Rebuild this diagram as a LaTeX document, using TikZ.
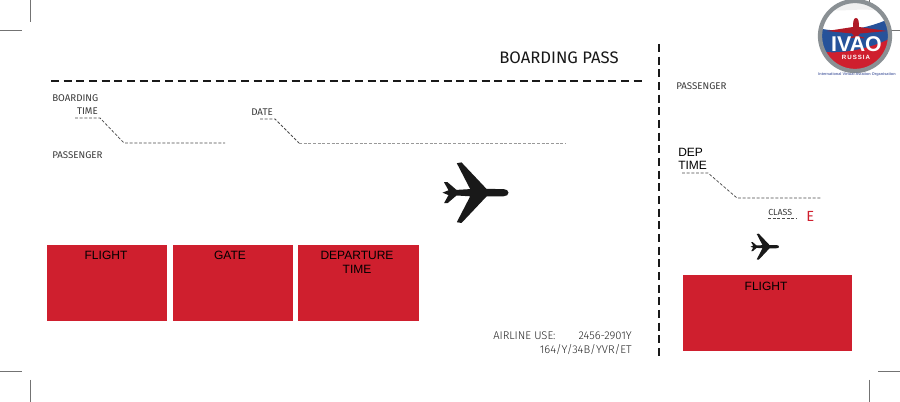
\documentclass[tikz,border=0pt]{standalone}
\usepackage{fontspec}
\setmainfont{Fira Sans}
\newfontfamily\lightf{Fira Sans Light}
\newfontfamily\arialf{Liberation Sans}
\newfontfamily\boldf{Liberation Sans Bold}
\definecolor{ticketred}{HTML}{CF1F2E}
\definecolor{inktext}{HTML}{3A3A3A}
\definecolor{logoblue}{HTML}{2A3F8F}
\definecolor{ringgrey}{HTML}{8A9094}
\tikzset{
  x=0.75pt,y=-0.75pt,
  crop/.style={draw=black!55,line width=0.6pt},
  mainrule/.style={draw=black!90,line width=0.8pt,dash pattern=on 6pt off 3.5pt},
  leader/.style={draw=black!70,line width=0.55pt,dash pattern=on 2.2pt off 1.3pt},
  redbox/.style={fill=ticketred,draw=none},
  lbl/.style={inner sep=0pt,font=\fontsize{7.3pt}{8pt}\selectfont,text=inktext,anchor=west},
  arl/.style={inner sep=0pt,font=\arialf\fontsize{9pt}{10pt}\selectfont,text=black},
  usetxt/.style={inner sep=0pt,font=\lightf\fontsize{8.4pt}{9pt}\selectfont,text=black!85},
}
\newcommand{\planeshape}{(39,0) .. controls (39,-2) and (37,-3.6) .. (34,-3.6) -- (17,-3.8) -- (-8,-30.3) -- (-12.7,-29.5) -- (0.7,-3.6) -- (-13,-2.8) -- (-22,-10.5) -- (-25.5,-10.5) -- (-21,-2.4) -- (-27,0) -- (-21,2.4) -- (-25.5,10.5) -- (-22,10.5) -- (-13,2.8) -- (0.7,3.6) -- (-12.7,29.5) -- (-8,30.3) -- (17,3.8) -- (34,3.6) .. controls (37,3.6) and (39,2) .. (39,0) -- cycle}
\begin{document}
\begin{tikzpicture}
\useasboundingbox[fill=white] (0,0) rectangle (900,402);
% crop marks
\draw[crop] (30,0) -- (30,22);
\draw[crop] (0,30) -- (22,30);
\draw[crop] (0,371) -- (22,371);
\draw[crop] (30,380) -- (30,402);
\draw[crop] (869,0) -- (869,22);
\draw[crop] (878,30) -- (900,30);
\draw[crop] (878,371) -- (900,371);
\draw[crop] (869,380) -- (869,402);
% main dashed rules
\coordinate (ruleL) at (51,81);
\coordinate (ruleR) at (643,81);
\coordinate (tearT) at (659,44);
\coordinate (tearB) at (659,358);
\draw[mainrule] (ruleL) -- (ruleR);
\draw[mainrule] (tearT) -- (tearB);
% titles
\node[inner sep=0pt,anchor=west,font=\fontsize{12.5pt}{14pt}\selectfont,text=black!90] (title) at (499,58) {BOARDING PASS};
% left labels
\node[lbl] (board) at (52,98.5) {BOARDING};
\node[lbl,anchor=east] (btime) at (98,111) {TIME};
\node[lbl] (pass1) at (52,155) {PASSENGER};
\node[lbl] (date) at (251,112) {DATE};
\node[lbl] (pass2) at (676,86) {PASSENGER};
\node[arl,anchor=west] (dep) at (678,152) {DEP};
\node[arl,anchor=west] (dtime) at (678,165) {TIME};
\node[lbl,font=\fontsize{6.6pt}{8pt}\selectfont] (class) at (768,212.5) {CLASS};
\node[inner sep=0pt,anchor=west,text=ticketred,font=\fontsize{11pt}{12pt}\selectfont] (classE) at (806,216) {E};
% leaders
\coordinate (b1) at (75,118); \coordinate (b2) at (100,118); \coordinate (b3) at (124,143); \coordinate (b4) at (225,143);
\draw[leader] (b1) -- (b2) -- (b3) -- (b4);
\coordinate (d1) at (260,119); \coordinate (d2) at (275,119); \coordinate (d3) at (299,143); \coordinate (d4) at (566,143);
\draw[leader] (d1) -- (d2) -- (d3);
\draw[leader,draw=black!40] (d3) -- (d4);
\coordinate (t1) at (682,173); \coordinate (t2) at (708,173); \coordinate (t3) at (737,198); \coordinate (t4) at (821,198);
\draw[leader] (t1) -- (t2) -- (t3) -- (t4);
\coordinate (c1) at (768,218); \coordinate (c2) at (797,218);
\draw[leader] (c1) -- (c2);
% red boxes
\path[redbox] (47,245) rectangle (167,321);
\path[redbox] (173,245) rectangle (293,321);
\path[redbox] (298,245) rectangle (419,321);
\path[redbox] (683,275) rectangle (852,351);
\node[arl] (f1) at (106,255) {FLIGHT};
\node[arl] (gate) at (230,255) {GATE};
\node[arl] (dp) at (357,255) {DEPARTURE};
\node[arl] (dpt) at (357,269) {TIME};
\node[arl] (f2) at (766,286) {FLIGHT};
% planes
\begin{scope}[shift={(469.5,192.7)}]
\fill[black!90] \planeshape;
\end{scope}
\begin{scope}[shift={(762.2,246.7)},scale=0.43]
\fill[black!90] \planeshape;
\end{scope}
% airline use
\node[usetxt,anchor=west] (air) at (493,336) {AIRLINE USE:};
\node[usetxt,anchor=east] (num) at (632,336) {2456-2901Y};
\node[usetxt,anchor=east] (code) at (632,350) {164/Y/34B/YVR/ET};
% logo
\begin{scope}
\clip (855,36) circle (35);
\fill[white] (815,0) rectangle (895,72);
\fill[black!6] (825,8) .. controls (840,14) and (860,6) .. (885,12) -- (885,0) -- (825,0) -- cycle;
\fill[logoblue!90!cyan] (815,27) .. controls (835,34) and (868,30) .. (895,16) -- (895,75) -- (815,75) -- cycle;
\fill[ticketred] (815,50) .. controls (835,56) and (870,50) .. (895,36) -- (895,75) -- (815,75) -- cycle;
\end{scope}
\draw[ringgrey,line width=3.2pt] (855,36) circle (35);
\fill[ticketred!85!black] (856,18) .. controls (858.5,18) and (859,22) .. (859,27) -- (887,31) -- (860,33.5) -- (858,36) -- (864,37.5) -- (864,38.5) -- (856,37.5) -- (848,38.5) -- (848,37.5) -- (854,36) -- (852,33.5) -- (827,31) -- (853,27) .. controls (853,22) and (853.5,18) .. (856,18) -- cycle;
\node[inner sep=0pt,text=white,font=\boldf\fontsize{16pt}{16pt}\selectfont] (ivao) at (856.5,44) {IVAO};
\node[inner sep=0pt,text=white,font=\boldf\fontsize{4.6pt}{5pt}\selectfont] (russia) at (856,57.5) {R\,U\,S\,S\,I\,A};
\node[inner sep=0pt,text=logoblue!75,font=\boldf\fontsize{2.9pt}{3pt}\selectfont] (intl) at (857,75) {International Virtual Aviation Organisation};
\end{tikzpicture}
\end{document}
